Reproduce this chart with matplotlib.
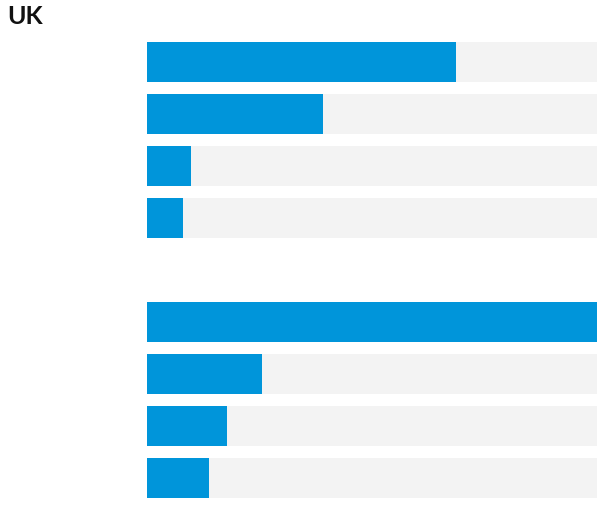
import matplotlib
matplotlib.use('Agg')
import matplotlib.pyplot as plt

# share values, percent of the longest bar
values = [68.7, 39.1, 9.8, 8.0, 100.0, 25.6, 17.8, 13.8]
positions = [0, 1, 2, 3, 5, 6, 7, 8]
max_value = 100.0

blue = '#0095da'
track = '#f3f3f3'

fig = plt.figure(figsize=(6.0, 5.18), dpi=100)
ax = fig.add_axes([147 / 600, 1 - 498 / 518, 450 / 600, 456 / 518])

ax.barh(positions, [max_value] * len(values), height=0.77, color=track, linewidth=0)
ax.barh(positions, values, height=0.77, color=blue, linewidth=0)

ax.set_xlim(0, max_value)
ax.set_ylim(8.385, -0.385)
ax.axis('off')

fig.text(7 / 600, 1 - 17 / 518, 'UK', fontsize=18, fontweight='bold',
         family='Lato', color='#111111', va='center', ha='left')

fig.savefig('out.png', dpi=100)
